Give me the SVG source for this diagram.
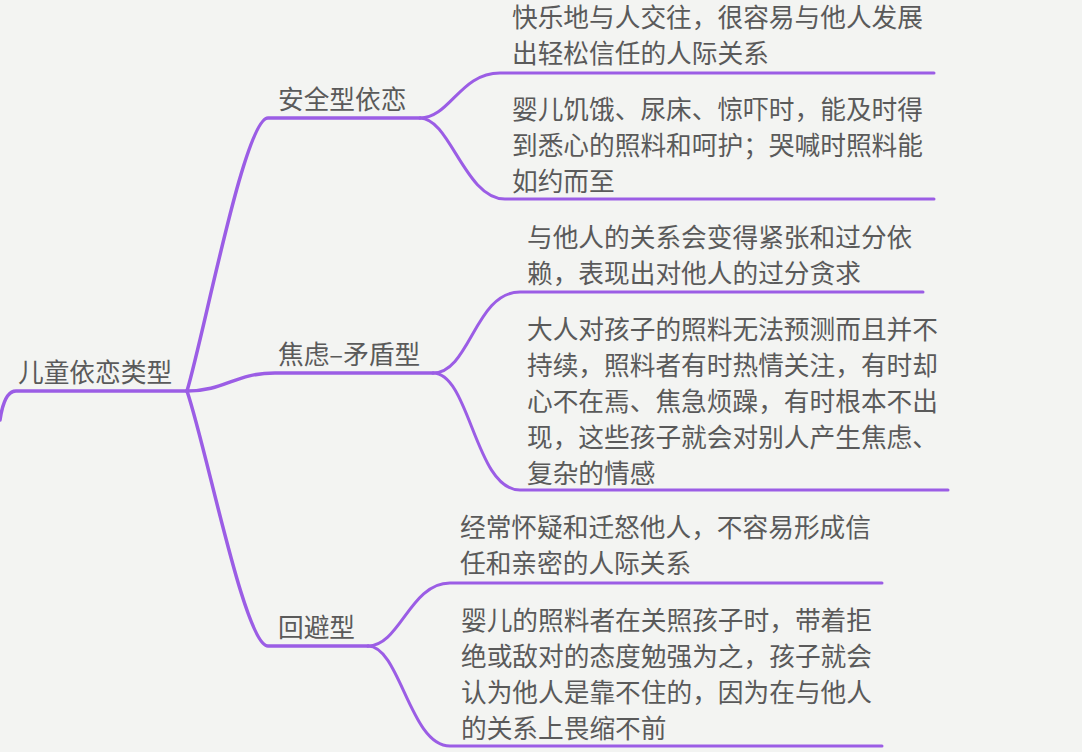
<svg xmlns="http://www.w3.org/2000/svg" width="1082" height="752" viewBox="0 0 1082 752">
<style>
.t{font-family:"Noto Sans CJK SC","Noto Sans",sans-serif;font-size:25.7px;fill:#5a5a5a}
.m{fill:none;stroke:#9b5de5;stroke-width:3.5;stroke-linecap:round}
.c{fill:none;stroke:#9b5de5;stroke-width:3;stroke-linecap:round}
</style>
<rect width="1082" height="752" fill="#f3f4f2"/>
<g id="connectors">
<path class="m" stroke-width="4" d="M187,391 H16 C8,391 3,400 0,420"/>
<path class="m" d="M187,391 C205,330 245,118 268,118 H420"/>
<path class="m" d="M187,391 C225,391 235,373 275,373 H433"/>
<path class="m" d="M187,391 C207,450 245,646 268,646 H368"/>
<path class="c" d="M420,118 C450,118 460,73 500,73 H934"/>
<path class="c" d="M420,118 C450,118 465,199 505,199 H934"/>
<path class="c" d="M433,373 C470,373 475,292 520,292 H923"/>
<path class="c" d="M433,373 C470,373 475,490 520,490 H948"/>
<path class="c" d="M368,646 C400,646 410,583 450,583 H882"/>
<path class="c" d="M368,646 C400,646 410,746 450,746 H882"/>
</g>
<g id="root"><text class="t" x="18" y="382">儿童依恋类型</text></g>
<g id="secure"><text class="t" x="278" y="109">安全型依恋</text></g>
<g id="anxious"><text class="t" x="278" y="364">焦虑–矛盾型</text></g>
<g id="avoidant"><text class="t" x="278" y="637">回避型</text></g>
<g id="secure-1"><text class="t" x="512"><tspan x="512" y="27">快乐地与人交往，很容易与他人发展</tspan><tspan x="512" y="63">出轻松信任的人际关系</tspan></text></g>
<g id="secure-2"><text class="t" x="512"><tspan x="512" y="119">婴儿饥饿、尿床、惊吓时，能及时得</tspan><tspan x="512" y="155">到悉心的照料和呵护；哭喊时照料能</tspan><tspan x="512" y="191">如约而至</tspan></text></g>
<g id="anxious-1"><text class="t" x="527"><tspan x="527" y="247">与他人的关系会变得紧张和过分依</tspan><tspan x="527" y="283">赖，表现出对他人的过分贪求</tspan></text></g>
<g id="anxious-2"><text class="t" x="527"><tspan x="527" y="339">大人对孩子的照料无法预测而且并不</tspan><tspan x="527" y="375">持续，照料者有时热情关注，有时却</tspan><tspan x="527" y="411">心不在焉、焦急烦躁，有时根本不出</tspan><tspan x="527" y="447">现，这些孩子就会对别人产生焦虑、</tspan><tspan x="527" y="483">复杂的情感</tspan></text></g>
<g id="avoidant-1"><text class="t" x="460"><tspan x="460" y="537">经常怀疑和迁怒他人，不容易形成信</tspan><tspan x="460" y="573">任和亲密的人际关系</tspan></text></g>
<g id="avoidant-2"><text class="t" x="461"><tspan x="461" y="630">婴儿的照料者在关照孩子时，带着拒</tspan><tspan x="461" y="666">绝或敌对的态度勉强为之，孩子就会</tspan><tspan x="461" y="702">认为他人是靠不住的，因为在与他人</tspan><tspan x="461" y="738">的关系上畏缩不前</tspan></text></g>
</svg>
